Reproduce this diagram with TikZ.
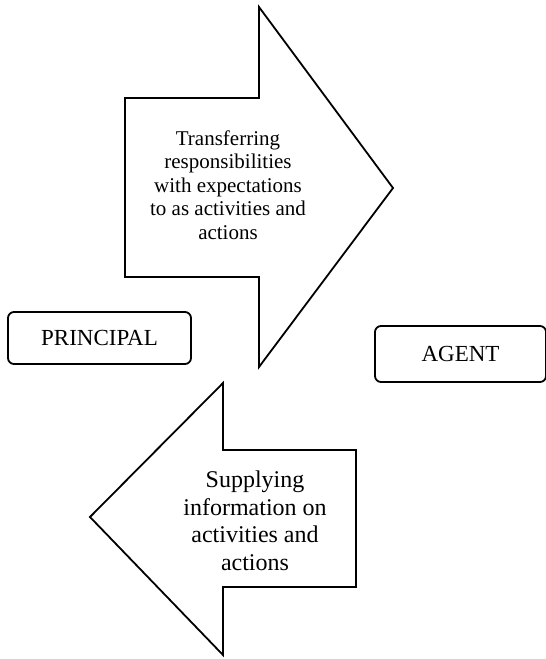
\documentclass[tikz,border=0pt]{standalone}
\usepackage{fontspec}
\setmainfont{Liberation Serif}
\begin{document}
\begin{tikzpicture}[x=1pt,y=-1pt,
  arrowshape/.style={draw=black,line width=1.8pt,line join=miter},
  actorbox/.style={draw=black,line width=1.8pt,rounded corners=6pt,inner sep=0pt,font=\fontsize{23}{26}\selectfont},
  lbl/.style={align=center,inner sep=0pt}]
\useasboundingbox (0,0) rectangle (546,659);
% top arrow (towards agent)
\draw[arrowshape] (125,98) -- (259,98) -- (259,7) -- (393,188) -- (259,367) -- (259,277) -- (125,277) -- cycle;
\node[lbl,font=\fontsize{21}{23.5}\selectfont] (t1) at (228,185) {Transferring\\responsibilities\\with expectations\\to as activities and\\actions};
% bottom arrow (towards principal)
\draw[arrowshape] (356,450) -- (223,450) -- (223,383) -- (90,517) -- (223,655) -- (223,587) -- (356,587) -- cycle;
\node[lbl,font=\fontsize{24}{27.5}\selectfont] (t2) at (255,521) {Supplying\\information on\\activities and\\actions};
% boxes
\node[actorbox,minimum width=183pt,minimum height=52pt] (principal) at (99.5,338) {PRINCIPAL};
\node[actorbox,minimum width=171pt,minimum height=56pt] (agent) at (460.5,354) {AGENT};
\end{tikzpicture}
\end{document}
